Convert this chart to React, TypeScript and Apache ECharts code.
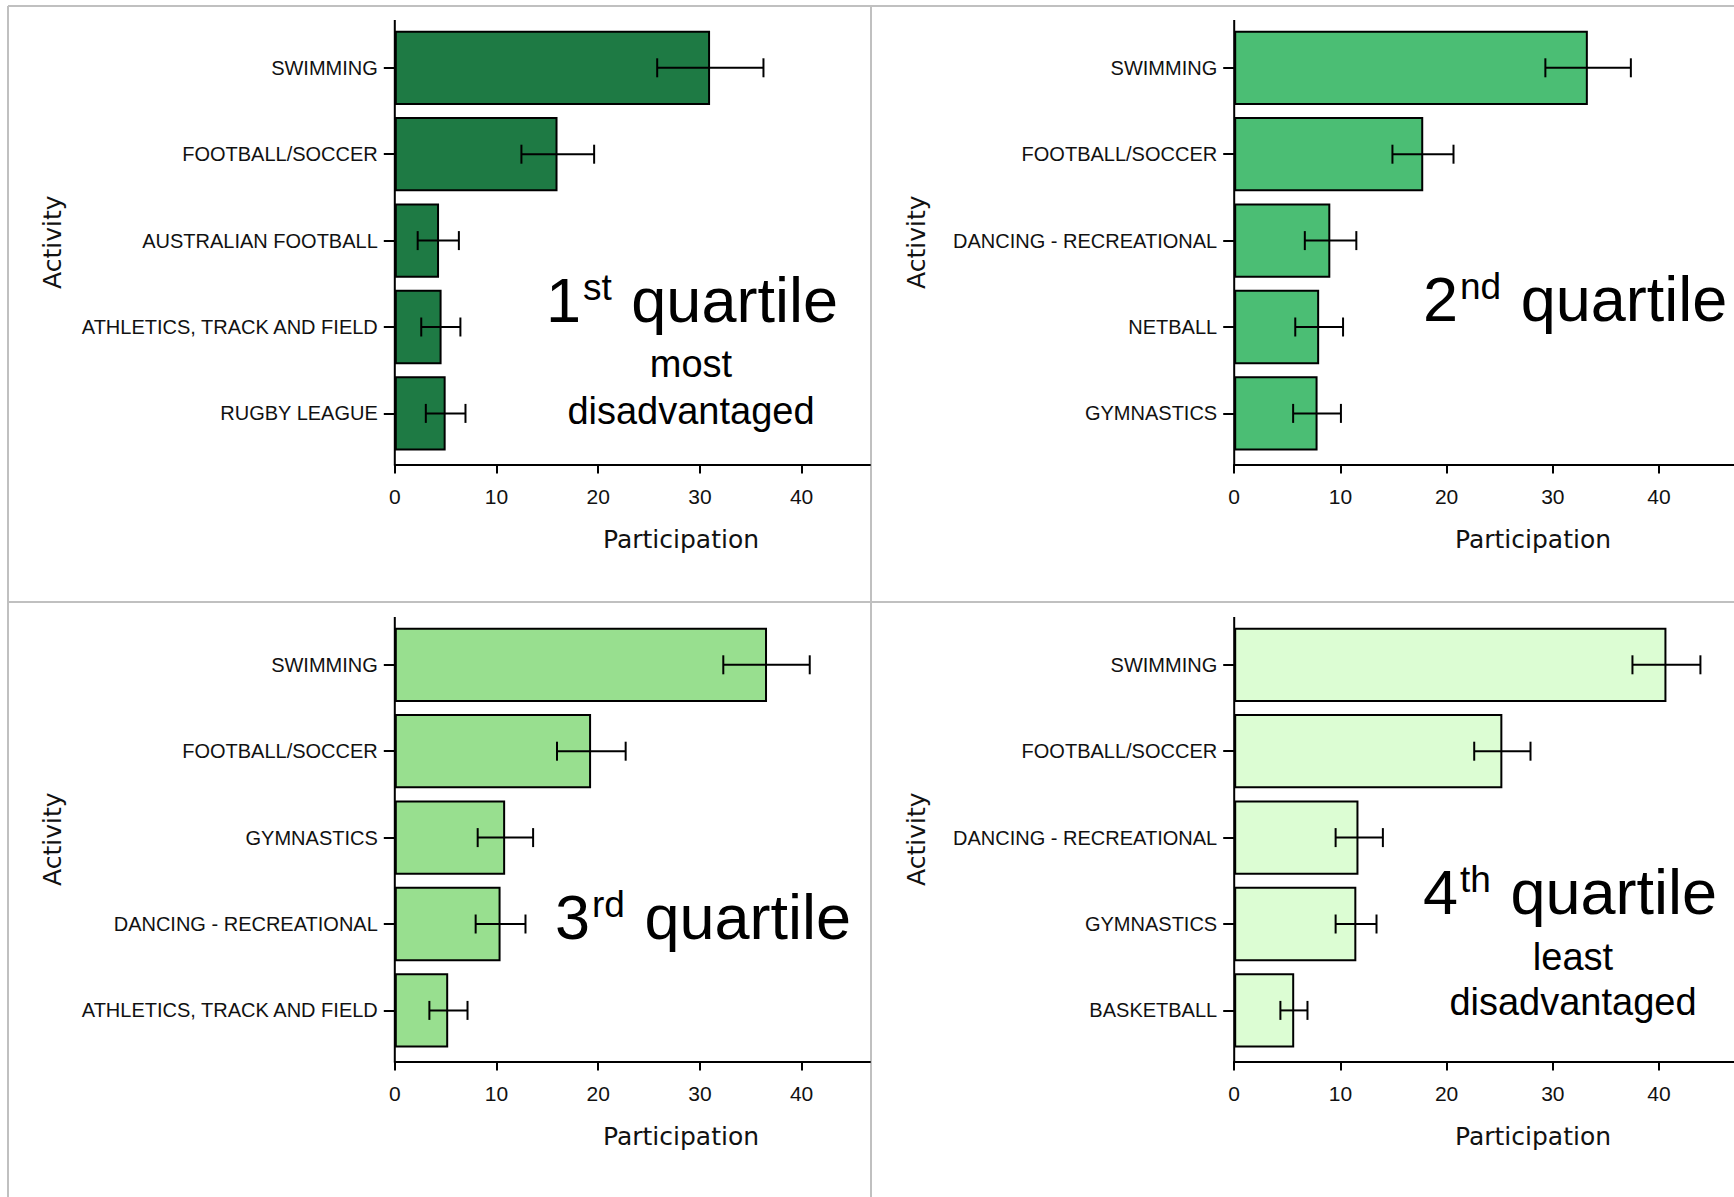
import React, { useEffect, useRef } from "react";
import * as echarts from "echarts";

// ---------- data ----------
const CATS_Q1 = ["SWIMMING", "FOOTBALL/SOCCER", "AUSTRALIAN FOOTBALL", "ATHLETICS, TRACK AND FIELD", "RUGBY LEAGUE"];
const VALS_Q1 = [31.0, 16.0, 4.35, 4.6, 5.0];
const LO_Q1 = [25.8, 12.45, 2.25, 2.6, 3.05];
const HI_Q1 = [36.25, 19.6, 6.3, 6.45, 6.95];

const CATS_Q2 = ["SWIMMING", "FOOTBALL/SOCCER", "DANCING - RECREATIONAL", "NETBALL", "GYMNASTICS"];
const VALS_Q2 = [33.3, 17.8, 9.05, 8.0, 7.85];
const LO_Q2 = [29.3, 14.9, 6.65, 5.75, 5.55];
const HI_Q2 = [37.35, 20.65, 11.5, 10.25, 10.05];

const CATS_Q3 = ["SWIMMING", "FOOTBALL/SOCCER", "GYMNASTICS", "DANCING - RECREATIONAL", "ATHLETICS, TRACK AND FIELD"];
const VALS_Q3 = [36.6, 19.3, 10.85, 10.4, 5.25];
const LO_Q3 = [32.3, 15.95, 8.15, 7.95, 3.4];
const HI_Q3 = [40.8, 22.7, 13.6, 12.85, 7.15];

const CATS_Q4 = ["SWIMMING", "FOOTBALL/SOCCER", "DANCING - RECREATIONAL", "GYMNASTICS", "BASKETBALL"];
const VALS_Q4 = [40.7, 25.25, 11.7, 11.5, 5.65];
const LO_Q4 = [37.5, 22.6, 9.55, 9.55, 4.35];
const HI_Q4 = [43.9, 27.9, 14.0, 13.4, 6.9];

const X_TICKS = [0, 10, 20, 30, 40];
const X_NAME = "Participation";
const Y_NAME = "Activity";

const PANELS = [
  { cats: CATS_Q1, vals: VALS_Q1, lo: LO_Q1, hi: HI_Q1, color: "#1e7a44", num: "1", sup: "st", sub: ["most", "disadvantaged"] },
  { cats: CATS_Q2, vals: VALS_Q2, lo: LO_Q2, hi: HI_Q2, color: "#4bbe74", num: "2", sup: "nd", sub: [] as string[] },
  { cats: CATS_Q3, vals: VALS_Q3, lo: LO_Q3, hi: HI_Q3, color: "#98df8f", num: "3", sup: "rd", sub: [] as string[] },
  { cats: CATS_Q4, vals: VALS_Q4, lo: LO_Q4, hi: HI_Q4, color: "#dcfdd3", num: "4", sup: "th", sub: ["least", "disadvantaged"] },
];

// ---------- layout (pixels) ----------
const W = 1734;
const H = 1197;
const LAYOUT = [
  { left: 394.8, right: 870, top: 24.6, ppu: 10.17, axTop: 20, titleX: 546, titleY: 300, subX: 691, subY: [364, 411], xNameX: 681, yNameX: 52 },
  { left: 1234.2, right: 1734, top: 24.6, ppu: 10.62, axTop: 20, titleX: 1423, titleY: 299, subX: 0, subY: [], xNameX: 1533, yNameX: 916 },
  { left: 394.8, right: 870, top: 621.6, ppu: 10.17, axTop: 617, titleX: 555, titleY: 917, subX: 0, subY: [], xNameX: 681, yNameX: 52 },
  { left: 1234.2, right: 1734, top: 621.6, ppu: 10.62, axTop: 617, titleX: 1423, titleY: 892, subX: 1573, subY: [957, 1002], xNameX: 1533, yNameX: 916 },
];
const GRID_H = 432;
const X_OFFSET = 7.9;
const BORDER = "#c0c0c0";
const LABEL_FONT = "'Liberation Sans', Arial, sans-serif";
const TITLE_FONT = "'DejaVu Sans', Verdana, sans-serif";

function buildOption() {
  const grid: any[] = [];
  const xAxis: any[] = [];
  const yAxis: any[] = [];
  const series: any[] = [];
  const graphic: any[] = [];

  // panel frame lines
  const frame = [
    [8, 6, W, 6],
    [8, 6, 8, H],
    [871, 6, 871, H],
    [8, 602, W, 602],
  ];
  frame.forEach(([x1, y1, x2, y2]) =>
    graphic.push({ type: "line", silent: true, shape: { x1, y1, x2, y2 }, style: { stroke: BORDER, lineWidth: 2 }, z: 0 })
  );

  PANELS.forEach((p, i) => {
    const L = LAYOUT[i];
    const width = L.right - L.left;
    grid.push({ left: L.left, top: L.top, width, height: GRID_H, containLabel: false });
    xAxis.push({
      type: "value",
      gridIndex: i,
      min: 0,
      max: width / L.ppu,
      offset: X_OFFSET,
      splitLine: { show: false },
      axisLine: { show: true, lineStyle: { color: "#000", width: 2 } },
      axisTick: { show: true, length: 9, customValues: X_TICKS, lineStyle: { color: "#000", width: 2 } },
      axisLabel: { customValues: X_TICKS, margin: 21, fontSize: 21, fontFamily: LABEL_FONT, color: "#111" },
    });
    yAxis.push({
      type: "category",
      gridIndex: i,
      data: p.cats,
      inverse: true,
      axisLine: { show: false },
      axisTick: { show: true, alignWithLabel: true, length: 11, lineStyle: { color: "#000", width: 2 } },
      axisLabel: { margin: 17, fontSize: 20, fontFamily: LABEL_FONT, color: "#111" },
      splitLine: { show: false },
    });
    series.push({
      type: "bar",
      xAxisIndex: i,
      yAxisIndex: i,
      data: p.vals,
      barCategoryGap: "14%",
      itemStyle: { color: p.color, borderColor: "#000", borderWidth: 2 },
      z: 2,
    });
    series.push({
      type: "custom",
      xAxisIndex: i,
      yAxisIndex: i,
      data: p.cats.map((_, k) => [k, p.lo[k], p.hi[k]]),
      encode: { y: 0, x: [1, 2] },
      z: 5,
      renderItem: (params: any, api: any) => {
        const idx = api.value(0);
        const a = api.coord([api.value(1), idx]);
        const b = api.coord([api.value(2), idx]);
        const c = 9.5;
        const st = { stroke: "#000", lineWidth: 2 };
        return {
          type: "group",
          children: [
            { type: "line", shape: { x1: a[0], y1: a[1], x2: b[0], y2: b[1] }, style: st },
            { type: "line", shape: { x1: a[0], y1: a[1] - c, x2: a[0], y2: a[1] + c }, style: st },
            { type: "line", shape: { x1: b[0], y1: b[1] - c, x2: b[0], y2: b[1] + c }, style: st },
          ],
        };
      },
    });

    // y axis line (extends a little beyond the category bands)
    const xAxisY = L.top + GRID_H + X_OFFSET;
    graphic.push({
      type: "line",
      silent: true,
      shape: { x1: L.left, y1: L.axTop, x2: L.left, y2: xAxisY + 1 },
      style: { stroke: "#000", lineWidth: 2 },
      z: 10,
    });
    // axis names
    graphic.push({
      type: "text",
      silent: true,
      x: L.xNameX,
      y: xAxisY + 75,
      style: { text: X_NAME, fontSize: 25, fontFamily: TITLE_FONT, fill: "#111", align: "center", verticalAlign: "middle", textAlign: "center", textVerticalAlign: "middle" },
    });
    graphic.push({
      type: "text",
      silent: true,
      x: L.yNameX,
      y: (L.axTop + xAxisY) / 2,
      rotation: Math.PI / 2,
      style: { text: Y_NAME, fontSize: 25, fontFamily: TITLE_FONT, fill: "#111", align: "center", verticalAlign: "middle", textAlign: "center", textVerticalAlign: "middle" },
    });
    // quartile annotation
    graphic.push({
      type: "text",
      silent: true,
      x: L.titleX,
      y: L.titleY,
      style: {
        text: `{b|${p.num}}{s|${p.sup}}{b| quartile}`,
        align: "left",
        verticalAlign: "middle",
        textAlign: "left",
        textVerticalAlign: "middle",
        fill: "#000",
        rich: {
          b: { fontSize: 63, fontFamily: LABEL_FONT, fill: "#000" },
          s: { fontSize: 37, fontFamily: LABEL_FONT, fill: "#000", verticalAlign: "top", padding: [0, 2, 0, 2] },
        },
      },
    });
    p.sub.forEach((t, k) => {
      graphic.push({
        type: "text",
        silent: true,
        x: L.subX,
        y: L.subY[k],
        style: { text: t, fontSize: 38, fontFamily: LABEL_FONT, fill: "#000", align: "center", verticalAlign: "middle", textAlign: "center", textVerticalAlign: "middle" },
      });
    });
  });

  return { animation: false, backgroundColor: "#fff", grid, xAxis, yAxis, series, graphic };
}

export default function App() {
  const ref = useRef<HTMLDivElement>(null);
  useEffect(() => {
    if (!ref.current) return;
    const chart = echarts.init(ref.current, undefined, { renderer: "svg", width: W, height: H });
    chart.setOption(buildOption());
    return () => chart.dispose();
  }, []);
  return (
    <div style={{ position: "absolute", left: 0, top: 0, width: W, height: H, background: "#fff" }}>
      <div ref={ref} style={{ width: W, height: H }} />
    </div>
  );
}
